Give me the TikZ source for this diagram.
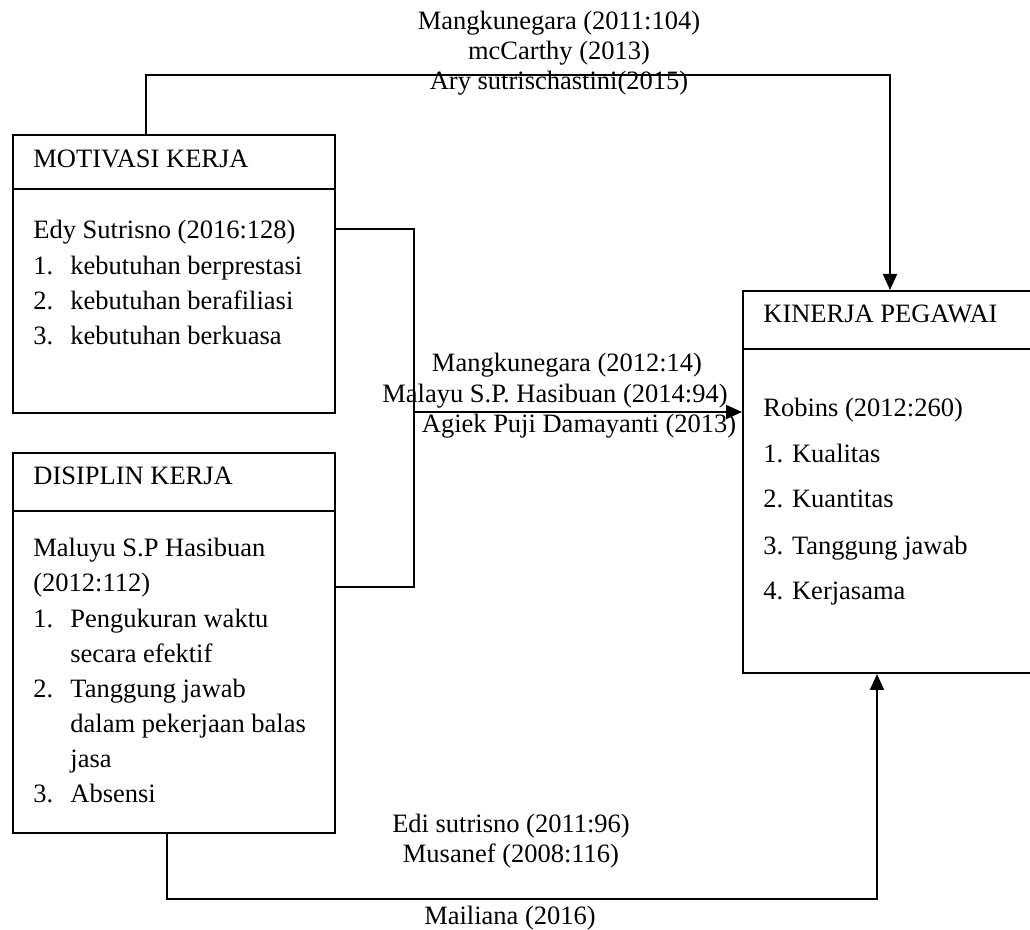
\documentclass[tikz,border=0pt]{standalone}
\usepackage{fontspec}
\setmainfont{Liberation Serif}
\usetikzlibrary{arrows.meta}
\tikzset{
  box/.style={draw, line width=1pt, rectangle, inner sep=0pt, anchor=north west},
  txt/.style={anchor=base west, inner sep=0pt, font=\fontsize{13.25}{16}\selectfont},
  lbl/.style={anchor=base, inner sep=0pt, font=\fontsize{13.25}{16}\selectfont},
  conn/.style={line width=1pt},
  arr/.style={line width=1pt, -{Triangle[length=8pt,width=7pt]}},
}
\newcommand{\itemno}[1]{\makebox[18.5pt][l]{#1}}
\begin{document}
\begin{tikzpicture}[x=0.5pt,y=-0.5pt]
\clip (0,0) rectangle (1030,930);
% boxes
\node[box, minimum width=161pt, minimum height=139pt] (motiv) at (12,134){};
\node[box, minimum width=161pt, minimum height=190pt] (disiplin) at (12,452){};
\node[box, minimum width=154pt, minimum height=191pt] (kinerja) at (742,290){};
\draw[conn] (motiv.west |- 0,189) -- (motiv.east |- 0,189);
\draw[conn] (disiplin.west |- 0,511) -- (disiplin.east |- 0,511);
\draw[conn] (kinerja.west |- 0,349) -- (kinerja.east |- 0,349);
% motivasi
\node[txt] (motivhead) at (33,168){MOTIVASI KERJA};
\node[txt] (motivsrc) at (33,239){Edy Sutrisno (2016:128)};
\node[txt] (motiv1) at (33,275){\itemno{1.}kebutuhan berprestasi};
\node[txt] (motiv2) at (33,310){\itemno{2.}kebutuhan berafiliasi};
\node[txt] (motiv3) at (33,345){\itemno{3.}kebutuhan berkuasa};
% disiplin
\node[txt] (dishead) at (33,485){DISIPLIN KERJA};
\node[txt] (dissrc) at (33,557){Maluyu S.P Hasibuan};
\node[txt] (dissrcb) at (33,592){(2012:112)};
\node[txt] (dis1) at (33,628){\itemno{1.}Pengukuran waktu};
\node[txt] (dis1b) at (70,663){secara efektif};
\node[txt] (dis2) at (33,698){\itemno{2.}Tanggung jawab};
\node[txt] (dis2b) at (70,733){dalam pekerjaan balas};
\node[txt] (dis2c) at (70,768){jasa};
\node[txt] (dis3) at (33,803){\itemno{3.}Absensi};
% kinerja
\node[txt] (kinhead) at (763,323){KINERJA PEGAWAI};
\node[txt] (kinsrc) at (763,417){Robins (2012:260)};
\node[txt] (kin1) at (763,463){1. Kualitas};
\node[txt] (kin2) at (763,508){2. Kuantitas};
\node[txt] (kin3) at (763,555){3. Tanggung jawab};
\node[txt] (kin4) at (763,600){4. Kerjasama};
% connectors
\coordinate (topl) at (146,75);
\coordinate (topr) at (890,75);
\draw[arr] (topl |- motiv.north) -- (topl) -- (topr) -- (topr |- kinerja.north);
\coordinate (joint) at (414,229);
\coordinate (jointb) at (414,587);
\coordinate (jointm) at (414,412);
\draw[conn] (motiv.east |- joint) -- (joint) -- (jointb) -- (disiplin.east |- jointb);
\draw[arr] (jointm) -- (kinerja.west |- jointm);
\coordinate (botl) at (167,899);
\coordinate (botr) at (877,899);
\draw[arr] (botl |- disiplin.south) -- (botl) -- (botr) -- (botr |- kinerja.south);
% labels
\node[lbl] (toplbl1) at (559,30){Mangkunegara (2011:104)};
\node[lbl] (toplbl2) at (559,60){mcCarthy (2013)};
\node[lbl] (toplbl3) at (559,90){Ary sutrischastini(2015)};
\node[lbl] (midlbl1) at (567,372){Mangkunegara (2012:14)};
\node[lbl] (midlbl2) at (555,403){Malayu S.P. Hasibuan (2014:94)};
\node[lbl] (midlbl3) at (579,433){Agiek Puji Damayanti (2013)};
\node[lbl] (botlbl1) at (511,833){Edi sutrisno (2011:96)};
\node[lbl] (botlbl2) at (511,863){Musanef (2008:116)};
\node[lbl] (botlbl3) at (510,925){Mailiana (2016)};
\end{tikzpicture}
\end{document}
